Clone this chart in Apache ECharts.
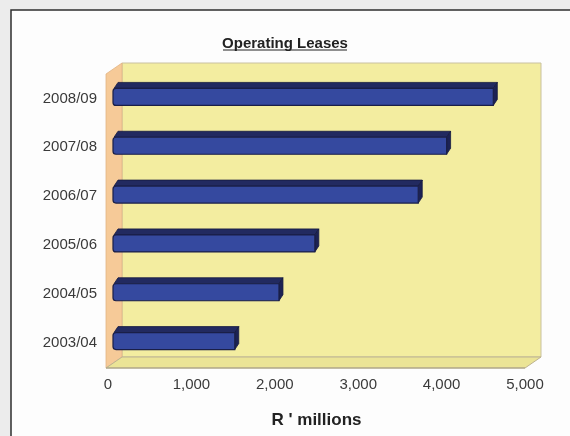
<!DOCTYPE html>
<html>
<head>
<meta charset="utf-8">
<script src="https://cdn.jsdelivr.net/npm/echarts@6/dist/echarts.min.js"></script>
<style>
html,body{margin:0;padding:0;background:#ececec;}
#c{width:570px;height:436px;}
</style>
</head>
<body>
<div id="c"></div>
<script>
const categories = ['2003/04', '2004/05', '2005/06', '2006/07', '2007/08', '2008/09'];
const values = [1460, 1990, 2420, 3660, 4000, 4560];
const xMin = 0, xMax = 5000, xStep = 1000;
const titleText = 'Operating Leases';
const axisTitle = "R ' millions";

const DX = 16, DY = -11;

const chart = echarts.init(document.getElementById('c'), null, {renderer: 'canvas'});

function wallsRender(params, api) {
  const cs = params.coordSys;
  const x0 = cs.x - 2, x1 = cs.x + cs.width, yt = cs.y, yb = cs.y + cs.height + 1;
  return {
    type: 'group',
    children: [
      { type: 'polygon', shape: { points: [[x0 + DX, yt + DY], [x1 + DX, yt + DY], [x1 + DX, yb + DY], [x0 + DX, yb + DY]] },
        style: { fill: '#f3eda0', stroke: '#c9c1a0', lineWidth: 1 } },
      { type: 'polygon', shape: { points: [[x0, yt], [x0 + DX, yt + DY], [x0 + DX, yb + DY], [x0, yb]] },
        style: { fill: '#f6ca98', stroke: '#e2b483', lineWidth: 0.8 } },
      { type: 'polygon', shape: { points: [[x0, yb], [x0 + DX, yb + DY], [x1 + DX, yb + DY], [x1, yb]] },
        style: { fill: '#ebe496', stroke: '#bdb391', lineWidth: 1 } },
      { type: 'line', shape: { x1: x0, y1: yb, x2: x1, y2: yb }, style: { stroke: '#a89f86', lineWidth: 1.2 } }
    ]
  };
}

function barRender(params, api) {
  const idx = api.value(1);
  const v = api.value(0);
  const p0 = api.coord([0, idx]);
  const p1 = api.coord([v, idx]);
  const ox = 5, dx = 4, dy = -6;
  const xl = p0[0] + ox, xr = p1[0] + ox;
  const yt = p0[1] - 10, yb = p0[1] + 7;
  return {
    type: 'group',
    children: [
      { type: 'polygon', shape: { points: [[xl + 1, yt], [xl + dx + 1, yt + dy], [xr + dx, yt + dy], [xr, yt]] },
        style: { fill: '#222a60', stroke: '#151a40', lineWidth: 0.8 } },
      { type: 'polygon', shape: { points: [[xr, yt], [xr + dx, yt + dy], [xr + dx, yb + dy], [xr, yb]] },
        style: { fill: '#1c2254', stroke: '#151a40', lineWidth: 0.8 } },
      { type: 'rect', shape: { x: xl, y: yt, width: xr - xl, height: yb - yt, r: [3, 0, 0, 3] },
        style: { fill: '#35499f', stroke: '#1a1f48', lineWidth: 1.2 } }
    ]
  };
}

chart.setOption({
  backgroundColor: '#ececec',
  animation: false,
  graphic: [
    { type: 'rect', z: -100, shape: { x: 11, y: 10, width: 600, height: 480 },
      style: { fill: '#fdfdfd', stroke: '#2e2e2e', lineWidth: 1.5 } },
    { type: 'line', z: 100, shape: { x1: 223, y1: 50, x2: 347, y2: 50 },
      style: { stroke: '#222', lineWidth: 1.2 } }
  ],
  title: {
    text: titleText,
    left: 280, top: 31, textAlign: 'center',
    textStyle: { fontFamily: 'Liberation Sans', fontWeight: 'bold', fontSize: 15, color: '#222' }
  },
  grid: { left: 108, right: 45, top: 74, bottom: 69, containLabel: false },
  xAxis: {
    type: 'value', min: xMin, max: xMax, interval: xStep,
    axisLine: { show: false }, axisTick: { show: false }, splitLine: { show: false },
    axisLabel: {
      margin: 10, color: '#3a3a3a', fontFamily: 'Liberation Sans', fontSize: 15,
      formatter: v => v.toLocaleString('en-US')
    },
    name: axisTitle, nameLocation: 'middle', nameGap: 45,
    nameTextStyle: { fontFamily: 'Liberation Sans', fontWeight: 'bold', fontSize: 17, color: '#222' }
  },
  yAxis: {
    type: 'category', data: categories,
    axisLine: { show: false }, axisTick: { show: false }, splitLine: { show: false },
    axisLabel: { margin: 11, color: '#3a3a3a', fontFamily: 'Liberation Sans', fontSize: 15 }
  },
  series: [
    { type: 'custom', z: 1, clip: false, silent: true, renderItem: wallsRender,
      data: [[0, 0]], encode: { x: 0, y: 1 } },
    { type: 'custom', z: 2, clip: false, renderItem: barRender,
      data: values.map((v, i) => [v, i]), encode: { x: 0, y: 1 } }
  ]
});
</script>
</body>
</html>
